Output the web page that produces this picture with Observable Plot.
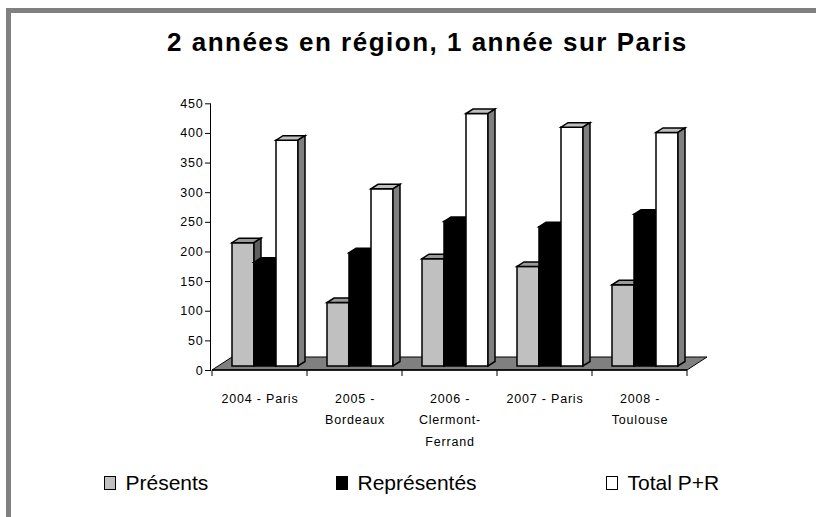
<!DOCTYPE html>
<html>
<head>
<meta charset="utf-8">
<script src="https://cdn.jsdelivr.net/npm/d3@7"></script>
<script src="https://cdn.jsdelivr.net/npm/@observablehq/plot@0.6"></script>
<style>
html,body{margin:0;padding:0;width:816px;height:517px;overflow:hidden;background:#fff;font-family:"Liberation Sans",Arial,sans-serif;color:#000;}
#wrap{position:relative;width:816px;height:517px;overflow:hidden;}
#frame{position:absolute;left:6px;top:8px;width:900px;height:600px;border-left:5px solid #808080;border-top:5px solid #808080;}
#title{position:absolute;left:167px;top:28.7px;font-size:26px;font-weight:bold;letter-spacing:1.5px;line-height:26px;white-space:nowrap;}
#chart{position:absolute;left:0;top:0;}
.leg{position:absolute;top:472px;font-size:21px;line-height:21px;white-space:nowrap;}
.sw{position:absolute;top:476px;width:9.5px;height:11.5px;border:1.3px solid #000;}
</style>
</head>
<body>
<div id="wrap">
  <div id="frame"></div>
  <div id="title">2 années en région, 1 année sur Paris</div>
  <div id="chart"></div>
  <div id="legend"></div>
</div>
<script>
// ---- data ----
const categories = ["2004 - Paris", "2005 - Bordeaux", "2006 - Clermont-Ferrand", "2007 - Paris", "2008 - Toulouse"];
const tickLabels = ["2004 - Paris", "2005 -\nBordeaux", "2006 -\nClermont-\nFerrand", "2007 - Paris", "2008 -\nToulouse"];
const series = ["Présents", "Représentés", "Total P+R"];
const presents = [208, 107, 181, 168, 137];
const representes = [175, 191, 244, 235, 256];
const totalPR = [381, 299, 426, 403, 394];

// ---- styles ----
const frontColors = ["#c0c0c0", "#000000", "#ffffff"];
const topColors = ["#9a9a9a", "#000000", "#c0c0c0"];
const sideColors = ["#5f5f5f", "#000000", "#808080"];
const BAR_W = 22, PAD = 14, DEP = [6, 4], DEPTH = [7, 4.5], FLOOR = [20, 13];

const valuesBySeries = [presents, representes, totalPR];
const rows = categories.flatMap((c, k) => series.map((s, j) => ({cat: c, series: s, value: valuesBySeries[j][k]})));
const labelRows = categories.map((c, k) => ({cat: c, label: tickLabels[k]}));

function bandwidthOf(scales, dims) {
  const x = scales.x;
  if (x && typeof x.bandwidth === "function") return x.bandwidth();
  return (dims.width - dims.marginLeft - dims.marginRight) / categories.length;
}

function floorRender(index, scales, values, dims) {
  const x = scales.x, y = scales.y, bw = bandwidthOf(scales, dims);
  const xa = x(categories[0]), xb = x(categories[categories.length - 1]) + bw, y0 = y(0);
  const g = d3.create("svg:g");
  g.append("path")
    .attr("d", `M${xa},${y0}L${xb},${y0}L${xb + FLOOR[0]},${y0 - FLOOR[1]}L${xa + FLOOR[0]},${y0 - FLOOR[1]}Z`)
    .attr("fill", "#808080").attr("stroke", "#000").attr("stroke-width", 1);
  g.append("line").attr("x1", xa).attr("x2", xb).attr("y1", y0).attr("y2", y0)
    .attr("stroke", "#000").attr("stroke-width", 1.5);
  const bounds = categories.map(c => x(c)).concat([xb]);
  for (const b of bounds) {
    g.append("line").attr("x1", b).attr("x2", b).attr("y1", y0).attr("y2", y0 + 6)
      .attr("stroke", "#000").attr("stroke-width", 1);
  }
  return g.node();
}

function barsRender(index, scales, values, dims) {
  const g = d3.create("svg:g").attr("stroke", "#000").attr("stroke-width", 1.5).attr("stroke-linejoin", "miter");
  for (const i of index) {
    const r = rows[i];
    const j = series.indexOf(r.series);
    const xs = values.x ? values.x[i] : scales.x(r.cat);
    const x0 = xs + PAD + j * BAR_W + DEP[0];
    const x1 = x0 + BAR_W;
    const yb = values.y1[i] - DEP[1];
    const yt = values.y2[i] - DEP[1];
    const front = values.fill ? values.fill[i] : frontColors[j];
    g.append("rect").attr("x", x0).attr("y", yt).attr("width", BAR_W).attr("height", yb - yt).attr("fill", front);
    g.append("path")
      .attr("d", `M${x0},${yt}L${x1},${yt}L${x1 + DEPTH[0]},${yt - DEPTH[1]}L${x0 + DEPTH[0]},${yt - DEPTH[1]}Z`)
      .attr("fill", topColors[j]);
    g.append("path")
      .attr("d", `M${x1},${yt}L${x1 + DEPTH[0]},${yt - DEPTH[1]}L${x1 + DEPTH[0]},${yb - DEPTH[1]}L${x1},${yb}Z`)
      .attr("fill", sideColors[j]);
  }
  return g.node();
}

const chart = Plot.plot({
  width: 816,
  height: 517,
  marginLeft: 210,
  marginRight: 128,
  marginTop: 103.3,
  marginBottom: 147,
  style: {fontFamily: "'Liberation Sans', Arial, sans-serif", fontSize: "12.5px", letterSpacing: "0.8px", background: "transparent", color: "#000", overflow: "visible"},
  x: {domain: categories, padding: 0, axis: null},
  y: {domain: [0, 450], ticks: 9, tickSize: 5, tickPadding: 2, line: true, label: null},
  color: {domain: series, range: frontColors},
  marks: [
    Plot.ruleY([0], {render: floorRender}),
    Plot.barY(rows, {x: "cat", y1: 0, y2: "value", fill: "series", render: barsRender}),
    Plot.text(labelRows, {x: "cat", y: 0, text: "label", lineAnchor: "top", dy: 17.2, lineHeight: 1.72, fontSize: 12.5, fill: "#000"})
  ]
});
document.getElementById("chart").appendChild(chart);

// ---- legend (HTML) ----
const legendSwatchX = [104, 336, 606];
const leg = document.getElementById("legend");
series.forEach((s, j) => {
  const sw = document.createElement("div");
  sw.className = "sw";
  sw.style.left = legendSwatchX[j] + "px";
  sw.style.background = frontColors[j];
  leg.appendChild(sw);
  const t = document.createElement("div");
  t.className = "leg";
  t.style.left = (legendSwatchX[j] + 21.5) + "px";
  t.textContent = s;
  leg.appendChild(t);
});
</script>
</body>
</html>
